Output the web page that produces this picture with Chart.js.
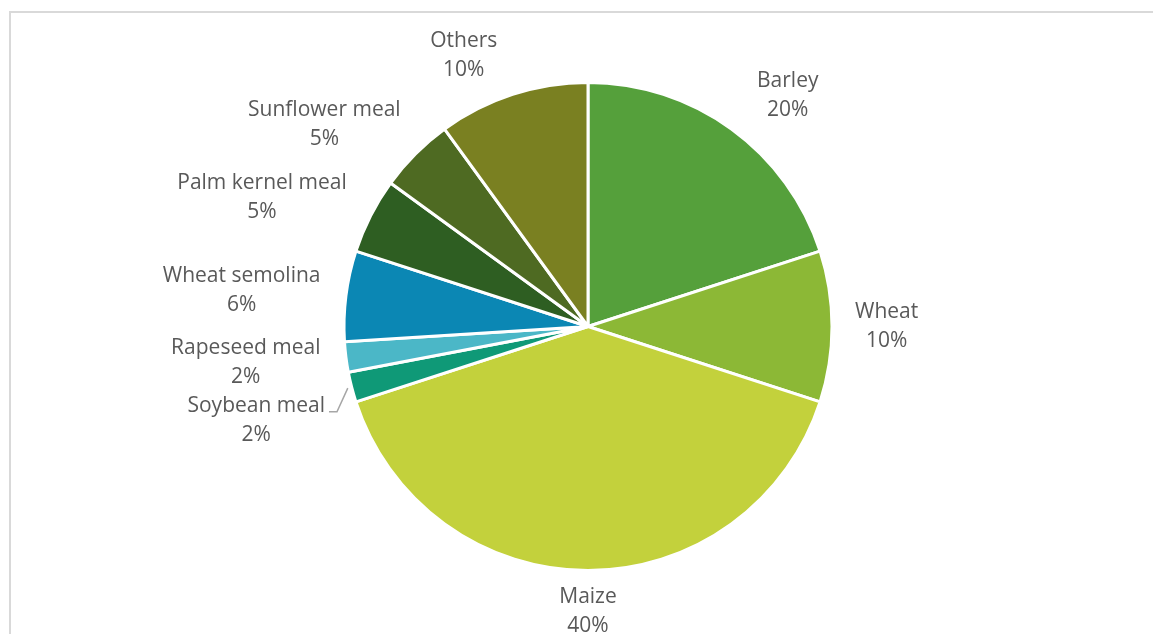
<!DOCTYPE html>
<html lang="en">
<head>
    <meta charset="UTF-8">
    <meta name="viewport" content="width=device-width, initial-scale=1.0">
    <title>Feed raw materials</title>
    <script src="https://cdn.jsdelivr.net/npm/chart.js"></script>
    <style>
        html, body {
            margin: 0;
            padding: 0;
            background: #ffffff;
        }
        .chart-container {
            position: relative;
            width: 1153px;
            height: 634px;
        }
    </style>
</head>
<body>
    <div class="chart-container">
        <canvas id="pieChart"></canvas>
    </div>
    <script>
        const categories = ['Barley', 'Wheat', 'Maize', 'Soybean meal', 'Rapeseed meal',
                            'Wheat semolina', 'Palm kernel meal', 'Sunflower meal', 'Others'];
        const shares = [20, 10, 40, 2, 2, 6, 5, 5, 10];
        const sliceColors = ['#55a03b', '#8cb836', '#c3d13c', '#0f9977', '#4bb7c7',
                             '#0b87b4', '#2e5e22', '#4e6a22', '#7a8021'];

        // light frame round the chart (clipped on the right and bottom like the source)
        const frame = {
            id: 'frame',
            beforeDraw(chart) {
                const ctx = chart.ctx;
                ctx.save();
                ctx.strokeStyle = '#d9d9d9';
                ctx.lineWidth = 2;
                ctx.strokeRect(10, 12, chart.width + 20, chart.height + 20);
                ctx.restore();
            }
        };

        // category + percent labels outside the slices, Excel style
        const outsideLabels = {
            id: 'outsideLabels',
            afterDatasetsDraw(chart, args, opts) {
                const ctx = chart.ctx;
                const arcs = chart.getDatasetMeta(0).data;
                const lineH = opts.lineHeight;
                ctx.save();
                ctx.font = opts.font;

                const boxes = arcs.map((arc, i) => {
                    const mid = (arc.startAngle + arc.endAngle) / 2;
                    const dx = Math.cos(mid), dy = Math.sin(mid);
                    const lines = [categories[i], shares[i] + '%'];
                    const w = Math.max(...lines.map(t => ctx.measureText(t).width));
                    const h = lines.length * lineH;
                    const r = arc.outerRadius + opts.gap;
                    const sx = Math.abs(dx) < 1e-6 ? 0 : Math.sign(dx);
                    return {
                        lines, w, h, dx, dy, sx, arc, moved: false,
                        cx: arc.x + r * dx + dx * w / 2 + sx * (opts.push + opts.pushY * Math.abs(dy)),
                        cy: arc.y + r * dy + dy * h / 2
                    };
                });

                // push overlapping labels apart, last slice first
                const placed = [];
                for (let k = boxes.length - 1; k >= 0; k--) {
                    const b = boxes[k];
                    for (const p of placed) {
                        const overlapX = Math.abs(b.cx - p.cx) < (b.w + p.w) / 2;
                        const overlapY = (b.h + p.h) / 2 - Math.abs(b.cy - p.cy);
                        if (overlapX && overlapY > 0) {
                            b.cy += (b.cy >= p.cy ? 1 : -1) * overlapY;
                            b.moved = true;
                        }
                    }
                    placed.push(b);
                }

                boxes.forEach(b => {
                    const top = b.cy - b.h / 2;
                    if (b.moved) {
                        const arc = b.arc;
                        const mid = (arc.startAngle + arc.endAngle) / 2;
                        const x0 = b.cx - b.sx * (b.w / 2 + 4);
                        const y0 = top + lineH * 0.5 + 6;
                        ctx.strokeStyle = '#a6a6a6';
                        ctx.lineWidth = 1.5;
                        ctx.beginPath();
                        ctx.moveTo(x0, y0);
                        ctx.lineTo(x0 - b.sx * 8, y0);
                        ctx.lineTo(arc.x + (arc.outerRadius + 4) * Math.cos(mid),
                                   arc.y + (arc.outerRadius + 4) * Math.sin(mid));
                        ctx.stroke();
                    }
                    ctx.fillStyle = opts.color;
                    ctx.textAlign = 'center';
                    ctx.textBaseline = 'middle';
                    b.lines.forEach((t, j) => ctx.fillText(t, b.cx, top + lineH * (j + 0.5)));
                });
                ctx.restore();
            }
        };

        const ctx = document.getElementById('pieChart').getContext('2d');
        const chart = new Chart(ctx, {
            type: 'pie',
            data: {
                labels: categories,
                datasets: [{
                    data: shares,
                    backgroundColor: sliceColors,
                    borderColor: '#ffffff',
                    borderWidth: 3,
                    radius: 244
                }]
            },
            options: {
                responsive: true,
                maintainAspectRatio: false,
                animation: false,
                events: [],
                layout: {
                    padding: { top: 80, bottom: 61, left: 100, right: 77 }
                },
                plugins: {
                    legend: { display: false },
                    tooltip: { enabled: false },
                    outsideLabels: {
                        font: '21px "Open Sans"',
                        lineHeight: 29,
                        color: '#595959',
                        gap: 12,
                        push: 11,
                        pushY: 25
                    }
                }
            },
            plugins: [frame, outsideLabels]
        });
    </script>
</body>
</html>
